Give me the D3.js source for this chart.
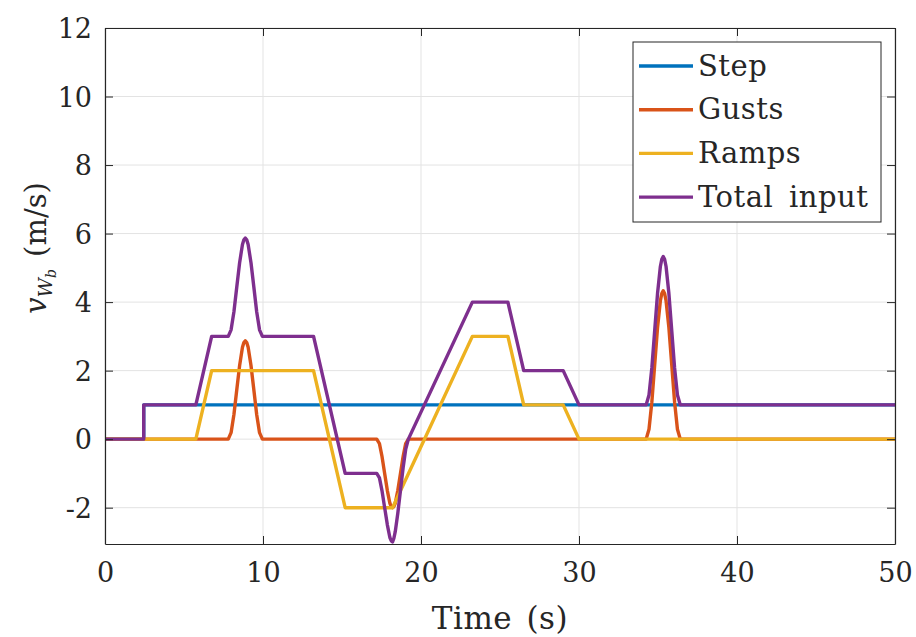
<!DOCTYPE html>
<html>
<head>
<meta charset="utf-8">
<script src="https://cdn.jsdelivr.net/npm/d3@7"></script>
<style>
  body { margin: 0; background: #fff; }
  svg { display: block; }
</style>
</head>
<body>
<div id="chart"></div>
<script>
// series: [time (s), value (m/s)]
const stepData = [[0, 0], [2.45, 0], [2.45, 1], [50, 1]];

const gustData = [
  [0, 0], [7.8, 0], [7.98, 0.19], [8.16, 0.72], [8.34, 1.44], [8.52, 2.15], [8.7, 2.68], [8.79, 2.82], [8.88, 2.87],
  [8.97, 2.82], [9.06, 2.68], [9.24, 2.15], [9.42, 1.44], [9.6, 0.72], [9.78, 0.19], [9.96, 0],
  [17.2, 0], [17.37, -0.13], [17.53, -0.5], [17.7, -1], [17.87, -1.5], [18.03, -1.87], [18.12, -1.97], [18.2, -2],
  [18.28, -1.97], [18.37, -1.87], [18.53, -1.5], [18.7, -1], [18.87, -0.5], [19.03, -0.13], [19.2, 0],
  [34.25, 0], [34.43, 0.29], [34.61, 1.08], [34.79, 2.17], [34.97, 3.25], [35.15, 4.04], [35.24, 4.25], [35.33, 4.33],
  [35.42, 4.25], [35.51, 4.04], [35.69, 3.25], [35.87, 2.17], [36.05, 1.08], [36.23, 0.29], [36.41, 0], [50, 0]
];

const rampData = [
  [0, 0], [5.75, 0], [6.75, 2], [13.2, 2], [15.2, -2], [18.2, -2], [23.25, 3],
  [25.5, 3], [26.5, 1], [29, 1], [30, 0], [50, 0]
];

const totalData = [
  [0, 0], [2.45, 0], [2.45, 1], [5.75, 1], [6.75, 3],
  [7.8, 3], [7.98, 3.19], [8.16, 3.72], [8.34, 4.44], [8.52, 5.15], [8.7, 5.68], [8.79, 5.82], [8.88, 5.87],
  [8.97, 5.82], [9.06, 5.68], [9.24, 5.15], [9.42, 4.44], [9.6, 3.72], [9.78, 3.19], [9.96, 3],
  [13.2, 3], [15.2, -1],
  [17.2, -1], [17.37, -1.13], [17.53, -1.5], [17.7, -2], [17.87, -2.5], [18.03, -2.87], [18.12, -2.97], [18.2, -3],
  [18.28, -2.9], [18.37, -2.7], [18.53, -2.17], [18.7, -1.5], [18.87, -0.83], [19.03, -0.3], [19.2, 0],
  [23.25, 4], [25.5, 4], [26.5, 2], [29, 2], [30, 1],
  [34.25, 1], [34.43, 1.29], [34.61, 2.08], [34.79, 3.17], [34.97, 4.25], [35.15, 5.04], [35.24, 5.25], [35.33, 5.33],
  [35.42, 5.25], [35.51, 5.04], [35.69, 4.25], [35.87, 3.17], [36.05, 2.08], [36.23, 1.29], [36.41, 1], [50, 1]
];

const seriesNames = ["Step", "Gusts", "Ramps", "Total input"];
const seriesColors = ["#0072BD", "#D95319", "#EDB120", "#7E2F8E"];
const xTicks = [0, 10, 20, 30, 40, 50];
const yTicks = [-2, 0, 2, 4, 6, 8, 10, 12];

const FONT = "'DejaVu Serif', 'Liberation Serif', serif";
const W = 916, H = 637;
const margin = { top: 28, right: 21, bottom: 93, left: 105 };

const svg = d3.select("#chart").append("svg")
  .attr("width", W)
  .attr("height", H)
  .attr("font-family", FONT);

const x = d3.scaleLinear().domain([0, 50]).range([margin.left, W - margin.right]);
const y = d3.scaleLinear().domain([-3.06, 12]).range([H - margin.bottom, margin.top]);

const x0 = x.range()[0], x1 = x.range()[1], y0 = y.range()[0], y1 = y.range()[1];

// grid
const grid = svg.append("g").attr("stroke", "#e3e3e3").attr("stroke-width", 1);
grid.selectAll(".gx").data(xTicks).join("line")
  .attr("x1", d => x(d)).attr("x2", d => x(d))
  .attr("y1", y1).attr("y2", y0);
grid.selectAll(".gy").data(yTicks).join("line")
  .attr("x1", x0).attr("x2", x1)
  .attr("y1", d => y(d)).attr("y2", d => y(d));

// clip
svg.append("defs").append("clipPath").attr("id", "plot-clip")
  .append("rect").attr("x", x0).attr("y", y1).attr("width", x1 - x0).attr("height", y0 - y1);

const line = d3.line().x(d => x(d[0])).y(d => y(d[1]));
const allSeries = [stepData, gustData, rampData, totalData];

svg.append("g").attr("clip-path", "url(#plot-clip)")
  .selectAll("path").data(allSeries).join("path")
  .attr("d", line)
  .attr("fill", "none")
  .attr("stroke", (d, i) => seriesColors[i])
  .attr("stroke-width", 3.4)
  .attr("stroke-linejoin", "round");

// axes with inward ticks on all four sides
const tickLen = 8;
const fmt = d => String(d);

const xAxis = svg.append("g").attr("transform", `translate(0,${y0})`)
  .call(d3.axisBottom(x).tickValues(xTicks).tickSizeInner(-tickLen).tickSizeOuter(0).tickPadding(19).tickFormat(fmt));
const yAxis = svg.append("g").attr("transform", `translate(${x0},0)`)
  .call(d3.axisLeft(y).tickValues(yTicks).tickSizeInner(-tickLen).tickSizeOuter(0).tickPadding(13).tickFormat(fmt));
const xTop = svg.append("g").attr("transform", `translate(0,${y1})`)
  .call(d3.axisTop(x).tickValues(xTicks).tickSizeInner(-tickLen).tickSizeOuter(0).tickFormat(""));
const yRight = svg.append("g").attr("transform", `translate(${x1},0)`)
  .call(d3.axisRight(y).tickValues(yTicks).tickSizeInner(-tickLen).tickSizeOuter(0).tickFormat(""));

[xAxis, yAxis, xTop, yRight].forEach(a => {
  a.attr("font-family", FONT).attr("font-size", 27);
  a.select(".domain").attr("stroke", "#262626").attr("stroke-width", 1.2);
  a.selectAll(".tick line").attr("stroke", "#262626").attr("stroke-width", 1);
  a.selectAll(".tick text").attr("fill", "#262626");
});
yAxis.selectAll(".tick text").attr("dy", "0.36em");

// axis labels
svg.append("text")
  .attr("x", (x0 + x1) / 2).attr("y", 629)
  .attr("text-anchor", "middle")
  .attr("font-size", 31)
  .attr("letter-spacing", 0.5)
  .attr("word-spacing", 4)
  .attr("fill", "#262626")
  .text("Time (s)");

const yl = svg.append("text")
  .attr("transform", "translate(46,248) rotate(-90)")
  .attr("text-anchor", "middle")
  .attr("font-size", 29)
  .attr("fill", "#262626");
yl.append("tspan").attr("font-style", "italic").text("v");
yl.append("tspan").attr("font-style", "italic").attr("font-size", 19).attr("dy", 6).text("W");
yl.append("tspan").attr("font-style", "italic").attr("font-size", 14).attr("dy", 4).text("b");
yl.append("tspan").attr("dy", -10).attr("dx", 12).text("(m/s)");

// legend
const legend = svg.append("g");
legend.append("rect")
  .attr("x", 633).attr("y", 42).attr("width", 248).attr("height", 180)
  .attr("fill", "#fff").attr("stroke", "#262626").attr("stroke-width", 1);

const rows = legend.selectAll(".row").data(seriesNames).join("g")
  .attr("transform", (d, i) => `translate(0,${66 + i * 43.7})`);
rows.append("line")
  .attr("x1", 639).attr("x2", 693).attr("y1", 0).attr("y2", 0)
  .attr("stroke", (d, i) => seriesColors[i]).attr("stroke-width", 3.4);
rows.append("text")
  .attr("x", 698).attr("y", 0).attr("dy", "0.33em")
  .attr("font-size", 29)
  .attr("letter-spacing", 0.5)
  .attr("word-spacing", 6)
  .attr("fill", "#262626")
  .text(d => d);
</script>
</body>
</html>
